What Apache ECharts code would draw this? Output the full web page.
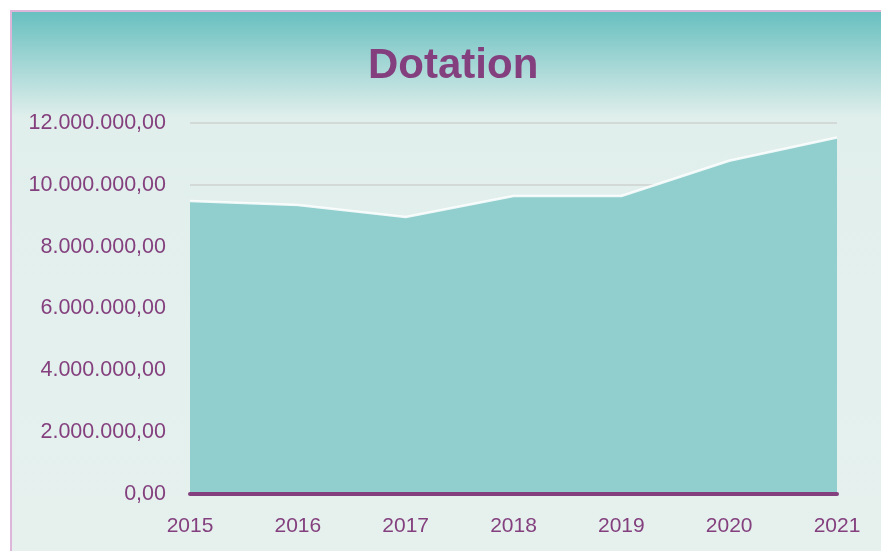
<!DOCTYPE html>
<html>
<head>
<meta charset="utf-8">
<style>html,body{margin:0;padding:0;background:#fff}#c{width:881px;height:551px}</style>
<script src="https://cdn.jsdelivr.net/npm/echarts@6/dist/echarts.min.js"></script>
</head>
<body>
<div id="c"></div>
<script>
const years = ['2015','2016','2017','2018','2019','2020','2021'];
const dotation = [9480000, 9350000, 8960000, 9640000, 9640000, 10780000, 11530000];
const titleText = 'Dotation';

function fmt(v){
  const s = Math.round(v).toString().replace(/\B(?=(\d{3})+(?!\d))/g, '.');
  return s + ',00';
}
const purple = '#84407E';
const font = '"Liberation Sans", Arial, sans-serif';
const chart = echarts.init(document.getElementById('c'), null, {renderer:'canvas'});
chart.setOption({
  backgroundColor: '#ffffff',
  animation: false,
  graphic: [
    {type:'rect', z:-10, shape:{x:10,y:10,width:871,height:541},
     style:{fill:new echarts.graphic.LinearGradient(0,0,0,1,[
       {offset:0,color:'#66BFBF'},
       {offset:0.2,color:'#E1EFEC'},
       {offset:1,color:'#E6F1EE'}])}, silent:true},
    {type:'rect', z:-9, shape:{x:10,y:10,width:871,height:2}, style:{fill:'#DDB6DA'}, silent:true},
    {type:'rect', z:-9, shape:{x:10,y:10,width:2,height:541}, style:{fill:'#DDB6DA'}, silent:true}
  ],
  title: {
    text: titleText, left: 363, top: 40,
    textStyle: {color: purple, fontFamily: font, fontWeight: 'bold', fontSize: 42}
  },
  grid: {left: 190, right: 44, top: 123, bottom: 57, containLabel: false},
  xAxis: {
    type: 'category', data: years, boundaryGap: false, z: 5,
    axisLine: {lineStyle: {color: purple, width: 4}},
    axisTick: {show: false},
    axisLabel: {color: purple, fontFamily: font, fontSize: 21, margin: 22}
  },
  yAxis: {
    type: 'value', min: 0, max: 12000000, interval: 2000000,
    axisLine: {show: false}, axisTick: {show: false},
    splitLine: {lineStyle: {color: '#D2D9D7', width: 2}},
    axisLabel: {color: purple, fontFamily: font, fontSize: 21.5, margin: 24, formatter: fmt}
  },
  series: [{
    type: 'line', data: dotation, symbol: 'none',
    lineStyle: {color: 'rgba(255,255,255,0.85)', width: 2.5},
    areaStyle: {color: '#90CFCD', opacity: 1}
  }]
});
</script>
</body>
</html>
